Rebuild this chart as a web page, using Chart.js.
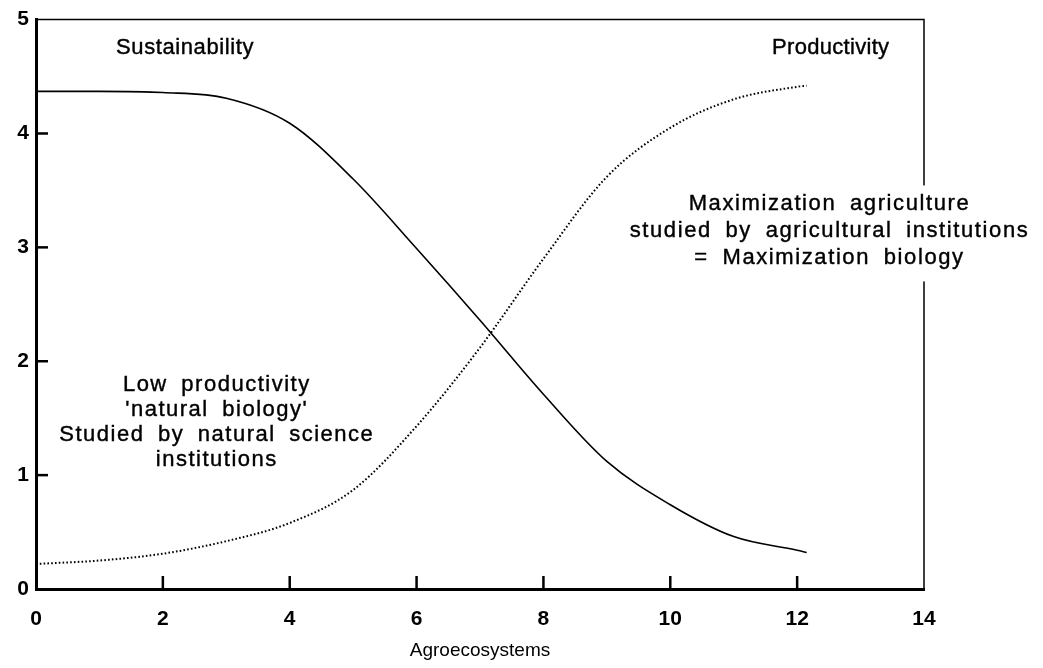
<!DOCTYPE html>
<html>
<head>
<meta charset="utf-8">
<script src="https://cdn.jsdelivr.net/npm/chart.js@4.4.0/dist/chart.umd.min.js"></script>
<style>
  html, body { margin: 0; padding: 0; background: #fff; }
  #wrap { width: 1043px; height: 668px; position: relative; }
</style>
</head>
<body>
<div id="wrap"><canvas id="chart_agro"></canvas></div>
<script>
// values
const xs = [0, 1, 2, 3, 4, 5, 6, 7, 8, 9, 10, 11, 12, 12.15];
const sustainability = [4.37, 4.37, 4.36, 4.31, 4.09, 3.6, 2.99, 2.36, 1.71, 1.12, 0.74, 0.46, 0.34, 0.32];
const productivity = [0.22, 0.25, 0.31, 0.42, 0.58, 0.87, 1.43, 2.12, 2.9, 3.62, 4.05, 4.3, 4.41, 4.42];
const xTickMarks = [2, 4, 6, 8, 10, 12];
const yTickMarks = [1, 2, 3, 4];

const notes = [
  { lines: ['Sustainability'], x: 2.35, y: 4.75, spacing: 0.6 },
  { lines: ['Productivity'], x: 12.53, y: 4.75, spacing: 0.3 },
  { lines: ['Low productivity', "'natural biology'", 'Studied by natural science', 'institutions'], x: 2.85, y: 1.46, gap: 25, spacing: 1.5 },
  { lines: ['Maximization agriculture', 'studied by agricultural institutions', '= Maximization biology'], x: 12.51, y: 3.14, gap: 27, spacing: 1.6, knockout: true }
];

const toPoints = ys => xs.map((x, i) => ({ x: x, y: ys[i] }));

const frame = {
  id: 'frame',
  afterDatasetsDraw(chart) {
    const ctx = chart.ctx;
    const a = chart.chartArea;
    const sx = chart.scales.x, sy = chart.scales.y;
    ctx.save();
    ctx.strokeStyle = '#000';
    // thin top and right edges
    ctx.lineWidth = 1.5;
    ctx.beginPath();
    ctx.moveTo(a.left, a.top);
    ctx.lineTo(a.right, a.top);
    ctx.lineTo(a.right, a.bottom);
    ctx.stroke();
    // inward ticks
    ctx.lineWidth = 2.5;
    xTickMarks.forEach(v => {
      const px = sx.getPixelForValue(v);
      ctx.beginPath();
      ctx.moveTo(px, a.bottom);
      ctx.lineTo(px, a.bottom - 13);
      ctx.stroke();
    });
    yTickMarks.forEach(v => {
      const py = sy.getPixelForValue(v);
      ctx.beginPath();
      ctx.moveTo(a.left, py);
      ctx.lineTo(a.left + 12, py);
      ctx.stroke();
    });
    // annotations
    ctx.fillStyle = '#000';
    ctx.lineWidth = 0.4;
    ctx.font = '22px "Liberation Sans", Arial, sans-serif';
    ctx.textAlign = 'center';
    ctx.textBaseline = 'middle';
    notes.forEach(n => {
      if ('letterSpacing' in ctx) ctx.letterSpacing = n.spacing + 'px';
      if ('wordSpacing' in ctx) ctx.wordSpacing = (n.lines.length > 1 ? 6 : 0) + 'px';
      const cx = sx.getPixelForValue(n.x);
      const cy = sy.getPixelForValue(n.y);
      const gap = n.gap || 0;
      const top = cy - gap * (n.lines.length - 1) / 2;
      if (n.knockout) {
        const w = Math.max(...n.lines.map(l => ctx.measureText(l).width));
        ctx.fillStyle = '#fff';
        ctx.fillRect(cx - w / 2 - 4, top - 19, w + 8, gap * (n.lines.length - 1) + 42);
        ctx.fillStyle = '#000';
      }
      n.lines.forEach((l, i) => {
        ctx.fillText(l, cx, top + i * gap);
        ctx.strokeText(l, cx, top + i * gap);
      });
    });
    ctx.restore();
  }
};

const chartConfig = {
  type: 'line',
  data: {
    datasets: [
      {
        label: 'Sustainability',
        data: toPoints(sustainability),
        borderColor: '#000',
        borderWidth: 1.6,
        pointRadius: 0,
        fill: false,
        cubicInterpolationMode: 'monotone'
      },
      {
        label: 'Productivity',
        data: toPoints(productivity),
        borderColor: '#000',
        borderWidth: 2,
        borderDash: [1.6, 2.2],
        pointRadius: 0,
        fill: false,
        cubicInterpolationMode: 'monotone'
      }
    ]
  },
  options: {
    responsive: false,
    animation: false,
    layout: { padding: { top: 19, right: 119, left: 0, bottom: 0 } },
    plugins: { legend: { display: false }, tooltip: { enabled: false } },
    scales: {
      x: {
        type: 'linear',
        min: 0,
        max: 14,
        grid: { display: false, drawTicks: false },
        border: { display: true, color: '#000', width: 3 },
        ticks: {
          stepSize: 2,
          color: '#000',
          padding: 18,
          maxRotation: 0,
          font: { family: '"Liberation Sans", Arial, sans-serif', size: 21, weight: 'bold' }
        },
        title: {
          display: true,
          text: 'Agroecosystems',
          color: '#000',
          padding: { top: 0, bottom: 6 },
          font: { family: '"Liberation Sans", Arial, sans-serif', size: 19 }
        },
        afterFit: scale => { scale.height = 79; }
      },
      y: {
        min: 0,
        max: 5,
        grid: { display: false, drawTicks: false },
        border: { display: true, color: '#000', width: 3 },
        ticks: {
          stepSize: 1,
          color: '#000',
          padding: 7,
          font: { family: '"Liberation Sans", Arial, sans-serif', size: 21, weight: 'bold' }
        },
        afterFit: scale => { scale.width = 36; }
      }
    }
  },
  plugins: [frame]
};

const chartElement = document.getElementById('chart_agro');
chartElement.width = 1043;
chartElement.height = 668;
const chart = new Chart(chartElement, chartConfig);
</script>
</body>
</html>
